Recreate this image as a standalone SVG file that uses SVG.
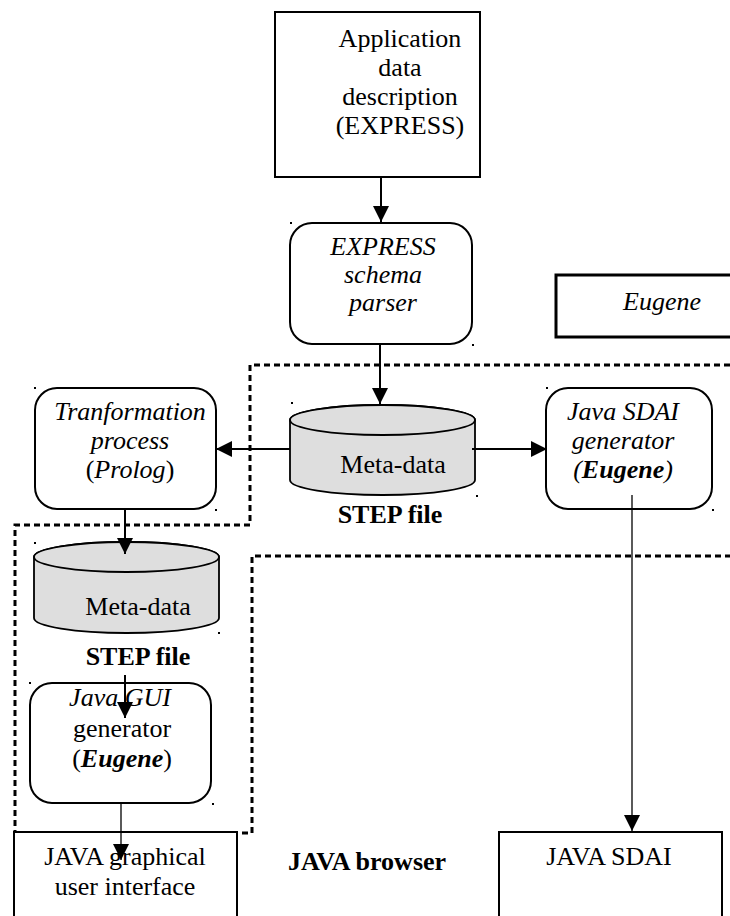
<svg xmlns="http://www.w3.org/2000/svg" width="730" height="916" viewBox="0 0 730 916">
<defs>
<style>
text{font-family:"Liberation Serif","Times New Roman",serif;font-size:26px;fill:#000;text-anchor:middle}
.i{font-style:italic}
.b{font-weight:bold}
.box{fill:#fff;stroke:#000;stroke-width:2}
.cyl{fill:#dedede;stroke:#000;stroke-width:1.8}
.ln{fill:none;stroke:#000;stroke-width:2}
.thin{fill:none;stroke:#000;stroke-width:1.3}
.dash{fill:none;stroke:#000;stroke-width:3;stroke-dasharray:6 4}
.dot{fill:#000}
</style>
<marker id="ah" markerUnits="userSpaceOnUse" markerWidth="16" markerHeight="16" viewBox="0 0 14 14" refX="14" refY="7" orient="auto">
<path d="M0,0 L14,7 L0,14 Z" fill="#000"/>
</marker>
</defs>

<g id="boundaries">
<path class="dash" d="M730,365 H250 V525 H15 V833 H252 V556 H730"/>
</g>

<g id="app-data">
<rect class="box" x="275" y="12" width="205" height="165"/>
<text x="400" y="47">Application</text>
<text x="400" y="76">data</text>
<text x="400" y="105">description</text>
<text x="400" y="134">(EXPRESS)</text>
</g>

<g id="parser">
<rect class="box" x="290" y="223" width="182" height="121" rx="22"/>
<text class="i" x="383" y="255">EXPRESS</text>
<text class="i" x="383" y="283">schema</text>
<text class="i" x="383" y="311">parser</text>
</g>

<g id="eugene">
<rect x="556" y="275" width="180" height="62" fill="#fff" stroke="#000" stroke-width="3"/>
<text class="i" x="662" y="310">Eugene</text>
</g>

<g id="transform">
<rect class="box" x="35" y="388" width="181" height="121" rx="22"/>
<text class="i" x="130" y="420">Tranformation</text>
<text class="i" x="130" y="449">process</text>
<text x="130" y="478">(<tspan class="i">Prolog</tspan>)</text>
</g>

<g id="metadata1">
<path class="cyl" d="M290,420 V480 A92.5,15 0 0 0 475,480 V420 A92.5,15 0 0 0 290,420 Z"/>
<ellipse class="cyl" cx="382.5" cy="420" rx="92.5" ry="15"/>
<text x="393" y="473">Meta-data</text>
<text class="b" x="390" y="523">STEP file</text>
</g>

<g id="sdai-gen">
<rect class="box" x="546" y="388" width="166" height="121" rx="22"/>
<text class="i" x="623" y="420">Java SDAI</text>
<text class="i" x="623" y="449">generator</text>
<text class="i" x="623" y="478">(<tspan class="b">Eugene</tspan>)</text>
</g>

<g id="metadata2">
<path class="cyl" d="M34,557 V618 A92.5,15 0 0 0 219,618 V557 A92.5,15 0 0 0 34,557 Z"/>
<ellipse class="cyl" cx="126.5" cy="557" rx="92.5" ry="15"/>
<text x="138" y="615">Meta-data</text>
<text class="b" x="138" y="665">STEP file</text>
</g>

<g id="gui-gen">
<rect class="box" x="30" y="683" width="181" height="120" rx="22"/>
<text class="i" x="120" y="706">Java GUI</text>
<text x="122" y="737">generator</text>
<text x="122" y="767">(<tspan class="i b">Eugene</tspan>)</text>
</g>

<g id="java-gui">
<rect class="box" x="14" y="832" width="223" height="100"/>
<text x="125" y="865">JAVA graphical</text>
<text x="125" y="895">user interface</text>
</g>

<g id="java-browser">
<text class="b" x="367" y="870">JAVA browser</text>
</g>

<g id="java-sdai">
<rect class="box" x="499" y="832" width="223" height="100"/>
<text x="609" y="865">JAVA SDAI</text>
</g>

<g id="connectors">
<path class="ln" d="M381,177 V222" marker-end="url(#ah)"/>
<path class="ln" d="M380,344 V404" marker-end="url(#ah)"/>
<path class="ln" d="M290,449 H216" marker-end="url(#ah)"/>
<path class="ln" d="M472,449 H547" marker-end="url(#ah)"/>
<path class="ln" d="M125,509 V554" marker-end="url(#ah)"/>
<path class="ln" d="M125,675 V718" marker-end="url(#ah)"/>
<path class="thin" d="M632,495 V831" marker-end="url(#ah)"/>
<path class="thin" d="M121,802 V860" marker-end="url(#ah)"/>
</g>

<g id="handles">
<rect class="dot" x="290" y="222" width="2" height="2"/>
<rect class="dot" x="472" y="344" width="2" height="2"/>
<rect class="dot" x="34" y="387" width="2" height="2"/>
<rect class="dot" x="215" y="509" width="2" height="2"/>
<rect class="dot" x="291" y="402" width="2" height="2"/>
<rect class="dot" x="476" y="495" width="2" height="2"/>
<rect class="dot" x="546" y="387" width="2" height="2"/>
<rect class="dot" x="712" y="509" width="2" height="2"/>
<rect class="dot" x="34" y="542" width="2" height="2"/>
<rect class="dot" x="218" y="632" width="2" height="2"/>
<rect class="dot" x="29" y="682" width="2" height="2"/>
<rect class="dot" x="212" y="803" width="2" height="2"/>
</g>
</svg>
